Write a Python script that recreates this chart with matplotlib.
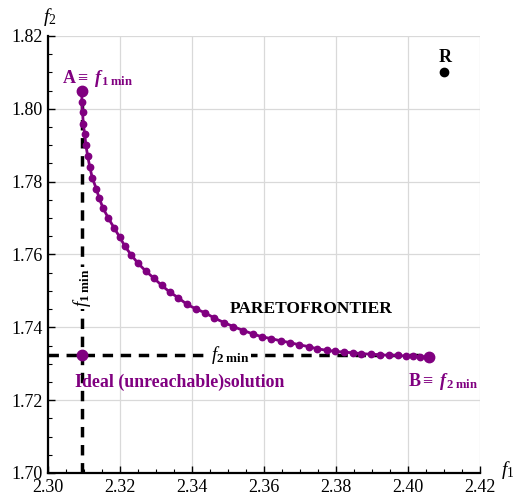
import matplotlib
matplotlib.use("Agg")
from matplotlib import pyplot as plt
from matplotlib.ticker import MultipleLocator

plt.rcParams["font.family"] = "Liberation Serif"
plt.rcParams["mathtext.fontset"] = "custom"
plt.rcParams["mathtext.rm"] = "Liberation Serif"
plt.rcParams["mathtext.it"] = "Liberation Serif:italic"
plt.rcParams["mathtext.bf"] = "Liberation Serif:bold"
plt.rcParams["mathtext.bfit"] = "Liberation Serif:italic:bold"

# pareto frontier points
f1 = [2.3094, 2.3094, 2.3096, 2.3098, 2.3102, 2.3105, 2.3110, 2.3116, 2.3123, 2.3134,
      2.3142, 2.3153, 2.3168, 2.3183, 2.3199, 2.3214, 2.3231, 2.3249, 2.3271, 2.3294,
      2.3316, 2.3338, 2.3362, 2.3386, 2.3412, 2.3436, 2.3461, 2.3489, 2.3515, 2.3543,
      2.3569, 2.3594, 2.3620, 2.3646, 2.3672, 2.3698, 2.3724, 2.3748, 2.3774, 2.3798,
      2.3822, 2.3846, 2.3870, 2.3896, 2.3922, 2.3946, 2.3972, 2.3994, 2.4015, 2.4033,
      2.4058]
f2 = [1.8048, 1.8018, 1.7990, 1.7958, 1.7930, 1.7902, 1.7871, 1.7841, 1.7810, 1.7781,
      1.7755, 1.7727, 1.7699, 1.7674, 1.7648, 1.7622, 1.7599, 1.7577, 1.7555, 1.7535,
      1.7515, 1.7497, 1.7481, 1.7463, 1.7450, 1.7440, 1.7426, 1.7413, 1.7402, 1.7391,
      1.7382, 1.7374, 1.7369, 1.7363, 1.7358, 1.7352, 1.7347, 1.7341, 1.7337, 1.7334,
      1.7332, 1.7330, 1.7328, 1.7326, 1.7325, 1.7323, 1.7323, 1.7321, 1.7321, 1.7319,
      1.7319]

f1_min = 2.3094
f2_min = 1.7323
ref_point = (2.41, 1.81)

purple = "#800080"

fig = plt.figure(figsize=(5.14, 4.97), dpi=100)
ax = fig.add_axes([0.0934, 0.0483, 0.8405, 0.8793])

ax.set_xlim(2.30, 2.42)
ax.set_ylim(1.70, 1.82)
ax.xaxis.set_major_locator(MultipleLocator(0.02))
ax.yaxis.set_major_locator(MultipleLocator(0.02))
ax.xaxis.set_minor_locator(MultipleLocator(0.005))
ax.yaxis.set_minor_locator(MultipleLocator(0.005))
ax.xaxis.set_major_formatter(plt.FormatStrFormatter("%.2f"))
ax.yaxis.set_major_formatter(plt.FormatStrFormatter("%.2f"))
ax.grid(True, which="major", color="#d9d9d9", lw=0.9)
ax.set_axisbelow(True)
for s in ["top", "right"]:
    ax.spines[s].set_visible(False)
for s in ["left", "bottom"]:
    ax.spines[s].set_linewidth(1.6)
ax.tick_params(which="major", direction="in", length=5, width=1, labelsize=13, pad=4)
ax.tick_params(which="minor", direction="in", length=3, width=0.8)
ax.tick_params(axis="x", pad=4.5)

# dashed guide lines
ax.plot([f1_min, f1_min], [1.70, f2[0]], ls=(0, (3, 2.2)), color="black", lw=2.5, zorder=2)
ax.plot([2.30, f1[-1]], [f2_min, f2_min], ls=(0, (3, 2.2)), color="black", lw=2.5, zorder=2)

# frontier
ax.plot(f1, f2, color=purple, lw=2.0, marker="o", ms=4.6, zorder=3)
ax.plot([f1[0], f1[-1]], [f2[0], f2[-1]], ls="none", marker="o", ms=7.5, color=purple, zorder=4)
ax.plot([f1_min], [f2_min], ls="none", marker="o", ms=7.5, color=purple, zorder=4)
ax.plot([ref_point[0]], [ref_point[1]], ls="none", marker="o", ms=6, color="black", zorder=4)

# labels
ax.text(2.3139, 1.8084, r"A$\equiv$ $\mathbfit{f}_{\mathbf{1\ min}}$", color=purple,
        fontsize=13, fontweight="bold", ha="center", va="center")
ax.text(2.4097, 1.7251, r"B$\equiv$ $\mathbfit{f}_{\mathbf{2\ min}}$", color=purple,
        fontsize=13, fontweight="bold", ha="center", va="center")
ax.text(2.4102, 1.8142, "R", color="black", fontsize=13, fontweight="bold",
        ha="center", va="center")
ax.text(2.3731, 1.7450, "PARETOFRONTIER", color="black", fontsize=12.5,
        fontweight="bold", ha="center", va="center")
ax.text(2.3367, 1.7248, "Ideal (unreachable)solution", color=purple, fontsize=12.8,
        fontweight="bold", ha="center", va="center")
ax.text(2.3506, 1.7323, r"$\mathit{f}_{\mathbf{2\ min}}$", color="black", fontsize=13.5,
        ha="center", va="center", zorder=5,
        bbox=dict(facecolor="white", edgecolor="none", pad=1))
ax.text(f1_min, 1.7508, r"$\mathit{f}_{\mathbf{1\ min}}$", color="black", fontsize=13.5,
        ha="center", va="center", rotation=90, zorder=5,
        bbox=dict(facecolor="white", edgecolor="none", pad=1))

# axis names
fig.text(50 / 514, 1 - 17 / 497, r"$\mathit{f}_2$", fontsize=14, ha="center", va="center")
fig.text(508 / 514, 1 - 470 / 497, r"$\mathit{f}_1$", fontsize=14, ha="center", va="center")

fig.savefig("out.png", dpi=100)
